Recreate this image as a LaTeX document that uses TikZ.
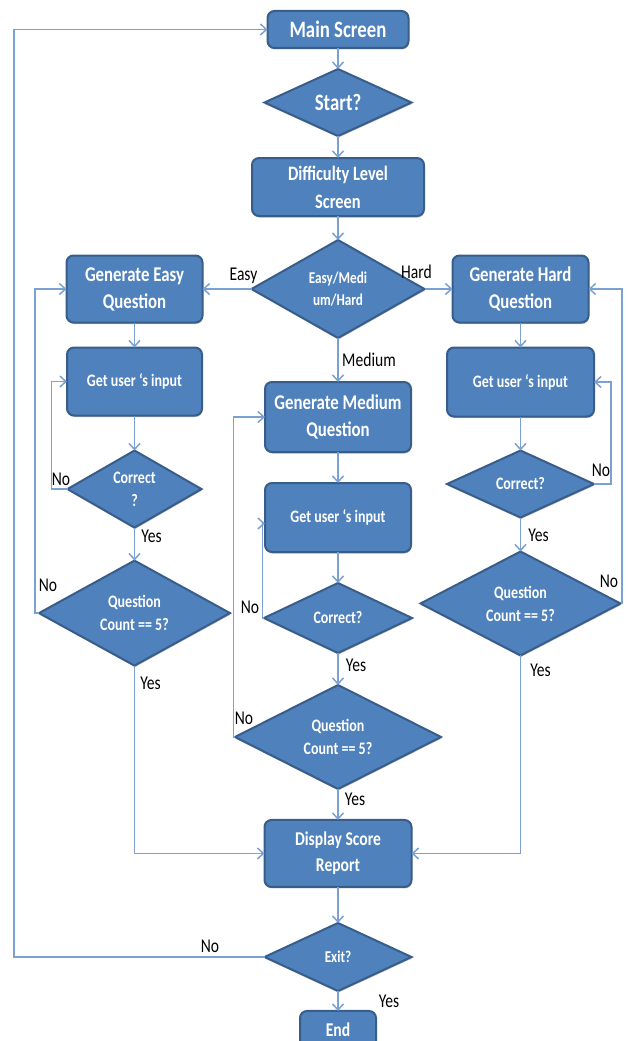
\documentclass[tikz,border=0pt]{standalone}
\usepackage{fontspec}
\setmainfont{Carlito}[FakeStretch=0.8]
\usepackage{tikz}
\usetikzlibrary{arrows.meta,positioning,shapes.geometric,shadows}
\definecolor{BoxBlue}{HTML}{4F81BD}
\definecolor{EdgeBlue}{HTML}{385D8A}
\definecolor{LineBlue}{HTML}{7BA0D2}

\begin{document}
\begin{tikzpicture}[x=1pt,y=-1pt,
  box/.style={draw=EdgeBlue,line width=2pt,fill=BoxBlue,rounded corners=7pt,text=white,align=center,inner sep=2pt,outer sep=0pt,
    drop shadow={shadow xshift=0.5pt,shadow yshift=-1.5pt,fill=black,opacity=.25}},
  choice/.style={diamond,draw=EdgeBlue,line width=2pt,fill=BoxBlue,text=white,align=center,inner sep=0pt,outer sep=0pt,
    drop shadow={shadow xshift=0.5pt,shadow yshift=-1.5pt,fill=black,opacity=.25}},
  arr/.style={-{Straight Barb[length=6pt,width=11pt]},line width=1.5pt,LineBlue},
  lbl/.style={font=\fontsize{19.5}{20}\selectfont,inner sep=0pt}
]
  \useasboundingbox (0,0) rectangle (628,1041);

  % middle column
  \node[box,minimum width=141pt,minimum height=37pt,font=\bfseries\fontsize{23.5}{28}\selectfont] (main) at (338,29.5) {Main Screen};
  \node[choice,minimum width=147pt,minimum height=67pt,font=\bfseries\fontsize{23.5}{28}\selectfont,below=21pt of main] (start) {Start?};
  \node[box,minimum width=172pt,minimum height=58pt,font=\bfseries\fontsize{20.5}{28}\selectfont,below=22pt of start] (diff) {Difficulty Level\\Screen};
  \node[choice,minimum width=173pt,minimum height=98pt,font=\bfseries\fontsize{16.5}{22}\selectfont,below=24pt of diff] (emh) {Easy/Medi\\um/Hard};
  \node[box,minimum width=146pt,minimum height=70pt,font=\bfseries\fontsize{21}{27}\selectfont,below=44pt of emh] (genm) {Generate Medium\\Question};
  \node[box,minimum width=146pt,minimum height=69pt,font=\bfseries\fontsize{17.5}{22}\selectfont,below=31pt of genm] (getm) {Get user ‘s input};
  \node[choice,minimum width=148pt,minimum height=70pt,font=\bfseries\fontsize{17.5}{22}\selectfont,below=31pt of getm] (corm) {Correct?};
  \node[choice,minimum width=206pt,minimum height=103pt,font=\bfseries\fontsize{17.5}{23}\selectfont,below=32pt of corm] (qcm) {Question\\Count == 5?};
  \node[box,minimum width=147pt,minimum height=67pt,font=\bfseries\fontsize{19.5}{26}\selectfont,below=31pt of qcm] (disp) {Display Score\\Report};
  \node[choice,minimum width=147pt,minimum height=68pt,font=\bfseries\fontsize{16.5}{22}\selectfont,below=36pt of disp] (exit) {Exit?};
  \node[box,minimum width=76pt,minimum height=37pt,font=\bfseries\fontsize{19.5}{24}\selectfont,below=20pt of exit] (end) {End};

  % easy column
  \node[box,minimum width=136pt,minimum height=67pt,font=\bfseries\fontsize{21}{27}\selectfont,left=49pt of emh] (gene) {Generate Easy\\Question};
  \node[box,minimum width=135pt,minimum height=68pt,font=\bfseries\fontsize{17.5}{22}\selectfont,below=25pt of gene] (gete) {Get user ‘s input};
  \node[choice,minimum width=134pt,minimum height=67pt,font=\bfseries\fontsize{17.5}{23}\selectfont,below=35pt of gete] (core) {Correct\\?};
  \node[choice,minimum width=191pt,minimum height=105pt,font=\bfseries\fontsize{17.5}{23}\selectfont,below=33pt of core] (qce) {Question\\Count == 5?};

  % hard column
  \node[box,minimum width=136pt,minimum height=67pt,font=\bfseries\fontsize{21}{27}\selectfont,right=28pt of emh] (genh) {Generate Hard\\Question};
  \node[box,minimum width=147pt,minimum height=69pt,font=\bfseries\fontsize{17.5}{22}\selectfont,below=25pt of genh] (geth) {Get user ‘s input};
  \node[choice,minimum width=147pt,minimum height=67pt,font=\bfseries\fontsize{17.5}{22}\selectfont,below=34pt of geth] (corh) {Correct?};
  \node[choice,minimum width=200pt,minimum height=103pt,font=\bfseries\fontsize{17.5}{23}\selectfont,below=34pt of corh] (qch) {Question\\Count == 5?};

  % connectors
  \draw[arr] (main) -- (start);
  \draw[arr] (start) -- (diff);
  \draw[arr] (diff) -- (emh);
  \draw[arr] (emh.west) -- (gene.east);
  \draw[arr] (emh.east) -- (genh.west);
  \draw[arr] (emh) -- (genm);
  \draw[arr] (genm) -- (getm);
  \draw[arr] (getm) -- (corm);
  \draw[arr] (corm) -- (qcm);
  \draw[arr] (qcm) -- (disp);
  \draw[arr] (disp) -- (exit);
  \draw[arr] (exit) -- (end);
  \draw[arr] (corm.west) -- ++(-1.5,0) |- ([yshift=-6pt]getm.west);
  \draw[arr] (qcm.west) -- ++(-1.5,0) |- (genm.west);

  \draw[arr] (gene) -- (gete);
  \draw[arr] (gete) -- (core);
  \draw[arr] (core) -- (qce);
  \draw[arr] (core.west) -- ++(-16,0) |- (gete.west);
  \draw[arr] (qce.west) -- ++(-4,0) |- (gene.west);
  \draw[arr] (qce.south) |- (disp.west);

  \draw[arr] (genh) -- (geth);
  \draw[arr] (geth) -- (corh);
  \draw[arr] (corh) -- (qch);
  \draw[arr] (corh.east) -- ++(17,0) |- (geth.east);
  \draw[arr] (qch.east) -- ++(1.5,0) |- (genh.east);
  \draw[arr] (qch.south) |- (disp.east);

  \draw[arr] (exit.west) -- ++(-250.5,0) |- (main.west);

  % labels
  \node[lbl] (lEasy) at ([shift={(-8,-13)}]emh.west) {Easy};
  \node[lbl] (lHard) at ([shift={(-8,-17)}]emh.east) {Hard};
  \node[lbl] (lMedium) at ([shift={(31,22)}]emh.south) {Medium};
  \node[lbl] (lNoCe) at ([shift={(-6.5,-10)}]core.west) {No};
  \node[lbl] (lYesCe) at ([shift={(17,9)}]core.south) {Yes};
  \node[lbl] (lNoQe) at ([shift={(9,-28)}]qce.west) {No};
  \node[lbl] (lYesQe) at ([shift={(16,18)}]qce.south) {Yes};
  \node[lbl] (lNoCm) at ([shift={(-14,-11)}]corm.west) {No};
  \node[lbl] (lYesCm) at ([shift={(18,12)}]corm.south) {Yes};
  \node[lbl] (lNoQm) at ([shift={(9,-18.5)}]qcm.west) {No};
  \node[lbl] (lYesQm) at ([shift={(17,10)}]qcm.south) {Yes};
  \node[lbl] (lNoCh) at ([shift={(7,-14)}]corh.east) {No};
  \node[lbl] (lYesCh) at ([shift={(18,18)}]corh.south) {Yes};
  \node[lbl] (lNoQh) at ([shift={(-11.5,-22)}]qch.east) {No};
  \node[lbl] (lYesQh) at ([shift={(20,15)}]qch.south) {Yes};
  \node[lbl] (lNoEx) at ([shift={(-54.5,-11)}]exit.west) {No};
  \node[lbl] (lYesEx) at ([shift={(51,10)}]exit.south) {Yes};
\end{tikzpicture}
\end{document}
